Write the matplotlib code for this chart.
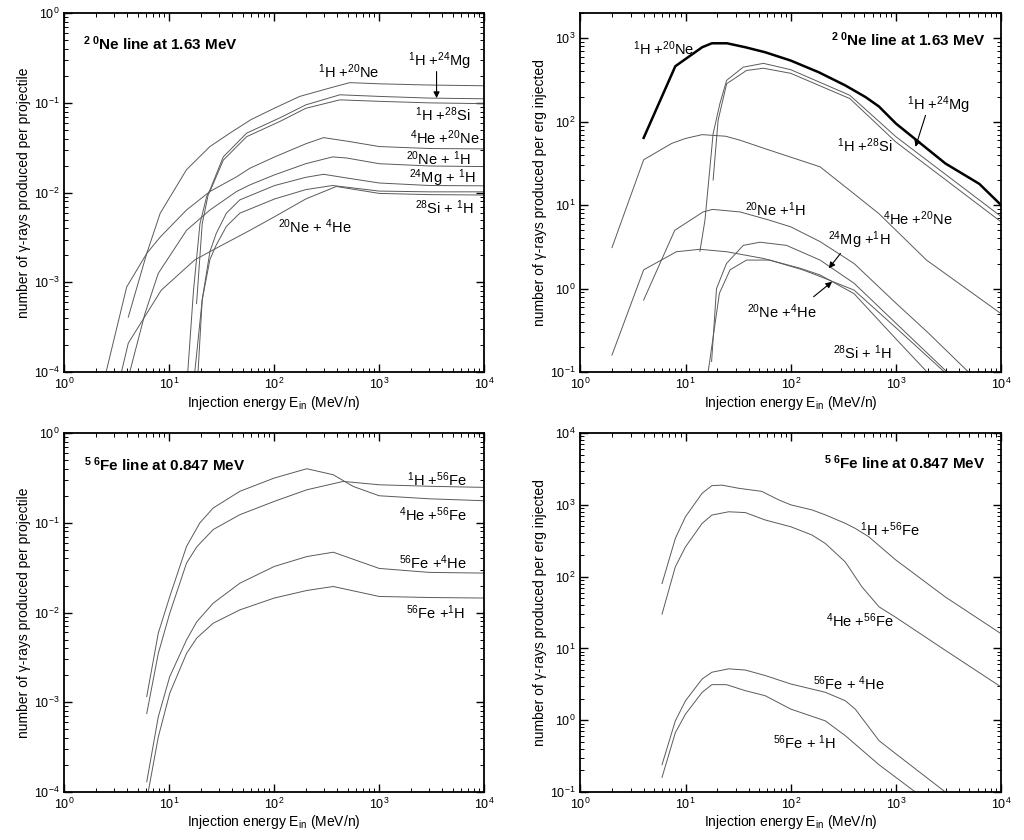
import numpy as np
import matplotlib
matplotlib.use('Agg')
import matplotlib.pyplot as plt
from matplotlib.ticker import LogLocator, NullFormatter

plt.rcParams['font.family'] = ['Liberation Sans', 'DejaVu Sans']
plt.rcParams['mathtext.fontset'] = 'custom'
plt.rcParams['mathtext.rm'] = 'Liberation Sans'
plt.rcParams['mathtext.it'] = 'Liberation Sans:italic'
plt.rcParams['mathtext.bf'] = 'Liberation Sans:bold'
plt.rcParams['mathtext.default'] = 'regular'

# ---- 20Ne line, gamma-rays per projectile (top left) ----
ne_p_h_ne_x = [2.5, 3.93, 6.1, 8.2, 14.6, 24.4, 37.8, 60, 100, 175, 365, 525, 1000, 3000, 10000]
ne_p_h_ne_y = [1e-4, 8.9e-4, 2.1e-3, 5.9e-3, 0.018, 0.0326, 0.046, 0.065, 0.087, 0.118, 0.15, 0.168, 0.163, 0.158, 0.155]
ne_p_h_mg_x = [15, 17, 19.6, 22.7, 24.4, 32.7, 54.6, 113, 200, 422, 1000, 3000, 10000]
ne_p_h_mg_y = [1e-4, 8e-4, 4.5e-3, 9e-3, 0.0107, 0.025, 0.046, 0.068, 0.095, 0.123, 0.118, 0.113, 0.111]
ne_p_h_si_x = [18.2, 20.6, 23.5, 24.4, 32.7, 54.6, 113, 200, 422, 1000, 3000, 10000]
ne_p_h_si_y = [5.8e-4, 4.5e-3, 9.5e-3, 0.0103, 0.023, 0.042, 0.062, 0.087, 0.108, 0.104, 0.100, 0.098]
ne_p_he_ne_x = [4.07, 6.1, 8.2, 14.6, 24.4, 43.8, 58.7, 101, 200, 295, 525, 1000, 3000, 10000]
ne_p_he_ne_y = [4.1e-4, 2.1e-3, 3.2e-3, 6.4e-3, 0.0103, 0.015, 0.0187, 0.025, 0.035, 0.041, 0.037, 0.0326, 0.031, 0.0307]
ne_p_ne_h_x = [4.2, 5.87, 7.86, 14.6, 24.4, 43.8, 58.7, 101, 200, 360, 490, 1000, 3000, 10000]
ne_p_ne_h_y = [1e-4, 4.5e-4, 1.26e-3, 3.8e-3, 6.4e-3, 0.0103, 0.0122, 0.0158, 0.021, 0.025, 0.0243, 0.021, 0.0198, 0.0195]
ne_p_mg_h_x = [18.8, 20.6, 24.4, 28, 35, 47, 101, 200, 295, 500, 1000, 3000, 10000]
ne_p_mg_h_y = [1e-4, 6.4e-4, 2.2e-3, 3.5e-3, 5.9e-3, 8.3e-3, 0.012, 0.0148, 0.016, 0.0145, 0.0128, 0.012, 0.0119]
ne_p_si_h_x = [17.5, 20.6, 24.4, 28, 35, 47, 101, 200, 360, 1000, 3000, 10000]
ne_p_si_h_y = [1e-4, 6.4e-4, 1.8e-3, 2.6e-3, 4.2e-3, 5.9e-3, 0.0085, 0.0108, 0.012, 0.0104, 0.0102, 0.0102]
ne_p_ne_he_x = [3.5, 4.07, 6.1, 8.4, 17.5, 28, 58.7, 101, 200, 390, 1000, 3000, 10000]
ne_p_ne_he_y = [1e-4, 2.1e-4, 4.5e-4, 8.2e-4, 1.78e-3, 2.4e-3, 3.8e-3, 5.4e-3, 8.5e-3, 0.0117, 0.0098, 0.0095, 0.0094]

# ---- 20Ne line, gamma-rays per erg injected (top right) ----
ne_e_h_ne_x = [4.0, 8.0, 14.4, 17.8, 24.8, 37, 57, 100, 184, 330, 515, 690, 1000, 2950, 6200, 10000]
ne_e_h_ne_y = [64, 462, 780, 870, 870, 780, 680, 540, 392, 272, 197, 152, 95, 31.6, 18, 10]
ne_e_h_mg_x = [13.7, 15.3, 18.3, 21.2, 24.6, 35.3, 55, 100, 365, 1000, 10000]
ne_e_h_mg_y = [2.8, 6.6, 72, 164, 313, 450, 500, 420, 207, 66, 7.3]
ne_e_h_si_x = [18.3, 20.4, 24.6, 38, 55, 100, 365, 1000, 10000]
ne_e_h_si_y = [20, 104, 285, 411, 437, 380, 189, 57, 6.3]
ne_e_he_ne_x = [2.0, 4.0, 7.4, 10, 14.4, 24, 33, 57, 190, 365, 690, 1950, 10000]
ne_e_he_ne_y = [3.1, 35, 55, 63, 70, 67, 60, 47.5, 28.8, 15, 7.9, 2.2, 0.5]
ne_e_ne_h_x = [4.0, 7.9, 14.7, 18.1, 33, 63, 100, 190, 400, 1000, 2000, 4900]
ne_e_ne_h_y = [0.73, 5.0, 8.3, 8.9, 8.3, 6.6, 5.5, 3.66, 2.0, 0.67, 0.30, 0.1]
ne_e_mg_h_x = [17.7, 19.7, 24.5, 35.4, 51, 91, 190, 400, 1000, 3070]
ne_e_mg_h_y = [0.134, 1.0, 2.0, 3.3, 3.6, 3.3, 2.2, 1.16, 0.385, 0.1]
ne_e_si_h_x = [16.4, 21, 26.5, 38, 63, 130, 190, 400, 1000, 2900]
ne_e_si_h_y = [0.1, 0.88, 1.68, 2.2, 2.2, 1.68, 1.4, 0.96, 0.34, 0.1]
ne_e_ne_he_x = [2.0, 4.0, 8.2, 13.7, 24.5, 55, 122, 190, 400, 1000, 1980]
ne_e_ne_he_y = [0.16, 1.68, 2.77, 2.96, 2.77, 2.3, 1.76, 1.46, 0.87, 0.25, 0.1]

# ---- 56Fe line, gamma-rays per projectile (bottom left) ----
fe_p_h_fe_x = [6.1, 7.86, 10.1, 14.6, 18.3, 26.2, 47, 100, 204, 455, 1000, 3000, 10000]
fe_p_h_fe_y = [7.5e-4, 3.5e-3, 9.8e-3, 0.0355, 0.054, 0.084, 0.123, 0.173, 0.233, 0.289, 0.265, 0.255, 0.248]
fe_p_he_fe_x = [6.1, 7.86, 10.1, 14.6, 19.6, 26.2, 47, 100, 204, 365, 565, 1000, 3000, 10000]
fe_p_he_fe_y = [1.16e-3, 5.9e-3, 0.015, 0.0545, 0.1, 0.146, 0.224, 0.315, 0.40, 0.343, 0.254, 0.2, 0.185, 0.176]
fe_p_fe_he_x = [6.1, 7.86, 10.1, 14.6, 18.3, 26.2, 47, 100, 204, 365, 1000, 3000, 10000]
fe_p_fe_he_y = [1.3e-4, 6.9e-4, 1.93e-3, 4.95e-3, 7.9e-3, 0.0127, 0.0212, 0.0326, 0.042, 0.047, 0.031, 0.028, 0.0275]
fe_p_fe_h_x = [6.3, 7.86, 10.1, 14.6, 18.3, 26.2, 47, 100, 204, 365, 1000, 3000, 10000]
fe_p_fe_h_y = [1e-4, 4.1e-4, 1.26e-3, 3.5e-3, 5.2e-3, 7.6e-3, 0.0107, 0.0145, 0.0176, 0.0195, 0.0151, 0.0147, 0.0145]

# ---- 56Fe line, gamma-rays per erg injected (bottom right) ----
fe_e_h_fe_x = [5.98, 8, 10, 14.4, 17.8, 22.2, 32, 53, 77, 100, 159, 213, 330, 410, 550, 1000, 2950, 10000]
fe_e_h_fe_y = [80, 340, 684, 1450, 1850, 1880, 1700, 1540, 1170, 1000, 850, 725, 552, 470, 360, 170, 52, 16]
fe_e_he_fe_x = [5.98, 8, 10, 14.4, 17.8, 25.7, 37, 57, 100, 159, 213, 330, 475, 690, 1000, 2950, 10000]
fe_e_he_fe_y = [30, 137, 260, 552, 720, 800, 780, 616, 495, 380, 290, 160, 72, 38, 27, 9.4, 2.9]
fe_e_fe_he_x = [5.98, 8, 10, 14.4, 17.8, 25.7, 37, 57, 100, 213, 330, 410, 690, 1000, 2950]
fe_e_fe_he_y = [0.24, 0.98, 1.87, 3.76, 4.66, 5.2, 5.0, 4.2, 3.2, 2.45, 1.87, 1.43, 0.52, 0.34, 0.1]
fe_e_fe_h_x = [5.98, 8, 10, 14.4, 17.8, 24.5, 37, 57, 100, 213, 330, 690, 1530]
fe_e_fe_h_y = [0.16, 0.67, 1.22, 2.45, 3.13, 3.13, 2.58, 2.2, 1.43, 0.98, 0.61, 0.24, 0.1]

line_c = '#5a5a5a'
lab_fs = 10.5
title_fs = 11


def style_axes(ax, ylim, ylabel):
    ax.set_xscale('log')
    ax.set_yscale('log')
    ax.set_xlim(1, 1e4)
    ax.set_ylim(*ylim)
    for a in (ax.xaxis, ax.yaxis):
        a.set_major_locator(LogLocator(base=10, numticks=20))
        a.set_minor_locator(LogLocator(base=10, subs=np.arange(2, 10), numticks=100))
        a.set_minor_formatter(NullFormatter())
    ax.tick_params(which='both', direction='in', top=True, right=True, labelsize=9)
    ax.tick_params(which='major', length=6, width=1)
    ax.tick_params(which='minor', length=3, width=0.7)
    for s in ax.spines.values():
        s.set_linewidth(1.3)
    ax.set_xlabel('Injection energy E$_{in}$ (MeV/n)', fontsize=10, labelpad=1)
    ax.set_ylabel(ylabel, fontsize=10, labelpad=2)


fig = plt.figure(figsize=(10.24, 8.4), dpi=100)
ax1 = fig.add_axes([0.0628, 0.557, 0.410, 0.4274])
ax2 = fig.add_axes([0.5667, 0.557, 0.411, 0.4274])
ax3 = fig.add_axes([0.0628, 0.0571, 0.410, 0.4274])
ax4 = fig.add_axes([0.5667, 0.0571, 0.411, 0.4274])

arrow = dict(arrowstyle='-|>', color='k', lw=0.8, mutation_scale=9, shrinkA=0, shrinkB=0)

# top left
for x, y in [(ne_p_h_ne_x, ne_p_h_ne_y), (ne_p_h_mg_x, ne_p_h_mg_y), (ne_p_h_si_x, ne_p_h_si_y),
             (ne_p_he_ne_x, ne_p_he_ne_y), (ne_p_ne_h_x, ne_p_ne_h_y), (ne_p_mg_h_x, ne_p_mg_h_y),
             (ne_p_si_h_x, ne_p_si_h_y), (ne_p_ne_he_x, ne_p_ne_he_y)]:
    ax1.plot(x, y, color=line_c, lw=0.7)
style_axes(ax1, (1e-4, 1), 'number of γ-rays produced per projectile')
ax1.text(0.044, 0.916, r'$^{\mathbf{2\ 0}}$Ne line at 1.63 MeV', transform=ax1.transAxes,
         fontsize=title_fs, fontweight='bold', va='center', ha='left')
ax1.text(507, 0.223, r'$^{1}$H +$^{20}$Ne', fontsize=lab_fs, ha='center', va='center')
ax1.text(3730, 0.289, r'$^{1}$H +$^{24}$Mg', fontsize=lab_fs, ha='center', va='center')
ax1.annotate('', xy=(3520, 0.113), xytext=(3520, 0.223), arrowprops=arrow)
ax1.text(4020, 0.0735, r'$^{1}$H +$^{28}$Si', fontsize=lab_fs, ha='center', va='center')
ax1.text(4170, 0.0404, r'$^{4}$He +$^{20}$Ne', fontsize=lab_fs, ha='center', va='center')
ax1.text(3680, 0.0236, r'$^{20}$Ne + $^{1}$H', fontsize=lab_fs, ha='center', va='center')
ax1.text(4020, 0.0145, r'$^{24}$Mg + $^{1}$H', fontsize=lab_fs, ha='center', va='center')
ax1.text(4230, 0.00687, r'$^{28}$Si + $^{1}$H', fontsize=lab_fs, ha='center', va='center')
ax1.text(244, 0.00418, r'$^{20}$Ne + $^{4}$He', fontsize=lab_fs, ha='center', va='center')

# top right
ax2.plot(ne_e_h_ne_x, ne_e_h_ne_y, color='k', lw=1.8)
for x, y in [(ne_e_h_mg_x, ne_e_h_mg_y), (ne_e_h_si_x, ne_e_h_si_y), (ne_e_he_ne_x, ne_e_he_ne_y),
             (ne_e_ne_h_x, ne_e_ne_h_y), (ne_e_mg_h_x, ne_e_mg_h_y), (ne_e_si_h_x, ne_e_si_h_y),
             (ne_e_ne_he_x, ne_e_ne_he_y)]:
    ax2.plot(x, y, color=line_c, lw=0.7)
style_axes(ax2, (0.1, 2000), 'number of γ-rays produced per erg injected')
ax2.text(0.962, 0.927, r'$^{\mathbf{2\ 0}}$Ne line at 1.63 MeV', transform=ax2.transAxes,
         fontsize=title_fs, fontweight='bold', va='center', ha='right')
ax2.text(6.2, 746, r'$^{1}$H +$^{20}$Ne', fontsize=lab_fs, ha='center', va='center')
ax2.text(2520, 157, r'$^{1}$H +$^{24}$Mg', fontsize=lab_fs, ha='center', va='center')
ax2.annotate('', xy=(1535, 50), xytext=(1910, 119), arrowprops=arrow)
ax2.text(505, 52, r'$^{1}$H +$^{28}$Si', fontsize=lab_fs, ha='center', va='center')
ax2.text(1625, 6.93, r'$^{4}$He +$^{20}$Ne', fontsize=lab_fs, ha='center', va='center')
ax2.text(71.5, 8.87, r'$^{20}$Ne +$^{1}$H', fontsize=lab_fs, ha='center', va='center')
ax2.text(443, 3.82, r'$^{24}$Mg +$^{1}$H', fontsize=lab_fs, ha='center', va='center')
ax2.annotate('', xy=(230, 1.75), xytext=(297, 2.64), arrowprops=arrow)
ax2.text(82.7, 0.53, r'$^{20}$Ne +$^{4}$He', fontsize=lab_fs, ha='center', va='center')
ax2.annotate('', xy=(247, 1.21), xytext=(165, 0.80), arrowprops=arrow)
ax2.text(477, 0.172, r'$^{28}$Si + $^{1}$H', fontsize=lab_fs, ha='center', va='center')

# bottom left
for x, y in [(fe_p_h_fe_x, fe_p_h_fe_y), (fe_p_he_fe_x, fe_p_he_fe_y),
             (fe_p_fe_he_x, fe_p_fe_he_y), (fe_p_fe_h_x, fe_p_fe_h_y)]:
    ax3.plot(x, y, color=line_c, lw=0.7)
style_axes(ax3, (1e-4, 1), 'number of γ-rays produced per projectile')
ax3.text(0.046, 0.913, r'$^{\mathbf{5\ 6}}$Fe line at 0.847 MeV', transform=ax3.transAxes,
         fontsize=title_fs, fontweight='bold', va='center', ha='left')
ax3.text(3570, 0.302, r'$^{1}$H +$^{56}$Fe', fontsize=lab_fs, ha='center', va='center')
ax3.text(3270, 0.123, r'$^{4}$He +$^{56}$Fe', fontsize=lab_fs, ha='center', va='center')
ax3.text(3220, 0.0361, r'$^{56}$Fe +$^{4}$He', fontsize=lab_fs, ha='center', va='center')
ax3.text(3460, 0.0100, r'$^{56}$Fe +$^{1}$H', fontsize=lab_fs, ha='center', va='center')

# bottom right
for x, y in [(fe_e_h_fe_x, fe_e_h_fe_y), (fe_e_he_fe_x, fe_e_he_fe_y),
             (fe_e_fe_he_x, fe_e_fe_he_y), (fe_e_fe_h_x, fe_e_fe_h_y)]:
    ax4.plot(x, y, color=line_c, lw=0.7)
style_axes(ax4, (0.1, 1e4), 'number of γ-rays produced per erg injected')
ax4.text(0.962, 0.916, r'$^{\mathbf{5\ 6}}$Fe line at 0.847 MeV', transform=ax4.transAxes,
         fontsize=title_fs, fontweight='bold', va='center', ha='right')
ax4.text(874, 445, r'$^{1}$H +$^{56}$Fe', fontsize=lab_fs, ha='center', va='center')
ax4.text(453, 24.6, r'$^{4}$He +$^{56}$Fe', fontsize=lab_fs, ha='center', va='center')
ax4.text(356, 3.2, r'$^{56}$Fe + $^{4}$He', fontsize=lab_fs, ha='center', va='center')
ax4.text(136, 0.49, r'$^{56}$Fe + $^{1}$H', fontsize=lab_fs, ha='center', va='center')

fig.savefig('out.png', dpi=100)
